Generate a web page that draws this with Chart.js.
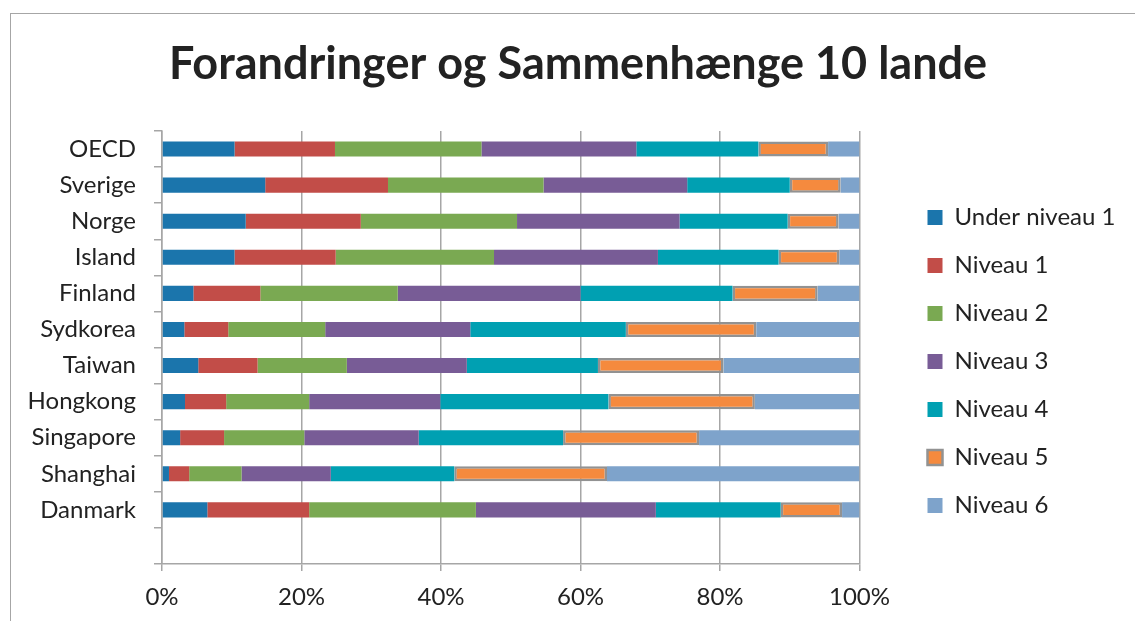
<!DOCTYPE html>
<html lang="da">
<head>
<meta charset="utf-8">
<title>Forandringer og Sammenhænge 10 lande</title>
<script src="https://cdn.jsdelivr.net/npm/chart.js@4.4.1/dist/chart.umd.min.js"></script>
<style>
  html, body { margin: 0; padding: 0; background: #fff; overflow: hidden; }
  /* cadre gris autour du graphique (bord droit et bas hors de l'écran) */
  #cadre { position: absolute; left: 10px; top: 13px; width: 1300px; height: 800px; border: 1px solid #a6a6a6; }
  #graphique { position: absolute; left: 0; top: 0; }
</style>
</head>
<body>
<div id="cadre"></div>
<canvas id="graphique" width="1156" height="621"></canvas>
<script>
/* données (en %) */
const lande = ["OECD", "Sverige", "Norge", "Island", "Finland", "Sydkorea", "Taiwan", "Hongkong", "Singapore", "Shanghai", "Danmark", ""];
const niveauer = ["Under niveau 1", "Niveau 1", "Niveau 2", "Niveau 3", "Niveau 4", "Niveau 5", "Niveau 6"];

const underNiveau1 = [10.4, 14.8, 12.0, 10.4, 4.5, 3.2, 5.2, 3.3, 2.6, 1.0, 6.5];
const niveau1 = [14.4, 17.6, 16.5, 14.5, 9.6, 6.3, 8.5, 5.9, 6.3, 2.9, 14.6];
const niveau2 = [21.0, 22.3, 22.4, 22.7, 19.7, 13.9, 12.8, 11.9, 11.5, 7.5, 23.9];
const niveau3 = [22.2, 20.6, 23.3, 23.5, 26.2, 20.8, 17.2, 18.8, 16.4, 12.8, 25.8];
const niveau4 = [17.5, 14.7, 15.5, 17.3, 21.8, 22.3, 18.8, 24.1, 20.7, 17.7, 17.9];
const niveau5 = [10.0, 7.3, 7.3, 8.7, 12.2, 18.7, 18.0, 21.0, 19.5, 21.9, 8.8];
const niveau6 = [4.5, 2.7, 3.0, 2.9, 6.0, 14.8, 19.5, 15.0, 23.0, 36.2, 2.5];

const xTicks = [0, 20, 40, 60, 80, 100];
const xLabels = ["0%", "20%", "40%", "60%", "80%", "100%"];

const serier = [underNiveau1, niveau1, niveau2, niveau3, niveau4, niveau5, niveau6];
const farver = ["#1b75ac", "#c24d48", "#7aa952", "#785c96", "#00a0b2", "#f58a3e", "#7ea3cb"];

const gris = "#a6a6a6";
const texte = "#222222";
const police = "Lato, 'Open Sans', sans-serif";

Chart.defaults.font.family = police;
Chart.defaults.color = texte;

/* largeur de la légende calculée à l'avance,
   pour que la zone du graphique finisse à x=859.5 */
const taillePolice = 24;
const mesure = document.createElement("canvas").getContext("2d");
mesure.font = taillePolice + "px " + police;
const texteMax = Math.max(...niveauer.map(t => mesure.measureText(t).width));
const largeurLegende = 24 + 15 + taillePolice / 2 + texteMax + 10;
const margeDroite = 1156 - 859.5 - largeurLegende;

/* après le calcul des positions :
   - la légende est décalée à droite et un peu vers le bas
   - le titre est centré sur toute la largeur */
const placerBlocs = {
  id: "placerBlocs",
  afterLayout(chart) {
    const lg = chart.legend;
    if (lg) {
      lg.left += 44; lg.right += 44;
      lg.top += 14; lg.bottom += 14;
    }
    const titre = chart.titleBlock;
    if (titre) {
      titre.left = 0;
      titre.right = chart.width;
      titre.width = chart.width;
    }
  }
};

const datasets = serier.map((data, i) => ({
  label: niveauer[i],
  data,
  backgroundColor: farver[i],
  // seul "Niveau 5" a un contour gris
  borderColor: i === 5 ? "#929292" : farver[i],
  borderWidth: i === 5 ? 2.5 : 0,
  borderSkipped: false,
  barPercentage: 0.42,
  categoryPercentage: 1
}));

new Chart(document.getElementById("graphique"), {
  type: "bar",
  data: { labels: lande, datasets },
  plugins: [placerBlocs],
  options: {
    indexAxis: "y",
    responsive: false,
    animation: false,
    layout: { padding: { left: 0, right: margeDroite, top: 0, bottom: 0 } },
    plugins: {
      title: {
        display: true,
        text: "Forandringer og Sammenhænge 10 lande",
        color: texte,
        font: { size: 45, weight: "bold" },
        padding: { top: 37, bottom: 40 }
      },
      legend: {
        position: "right",
        fullSize: false,
        align: "center",
        labels: {
          boxWidth: 15,
          boxHeight: 15,
          padding: 24,
          color: texte,
          font: { size: taillePolice }
        }
      },
      tooltip: { enabled: false }
    },
    scales: {
      x: {
        stacked: true,
        min: 0,
        max: 100,
        afterBuildTicks: s => { s.ticks = xTicks.map(v => ({ value: v })); },
        afterFit: s => { s.height = 57; },
        ticks: {
          padding: 12,
          font: { size: taillePolice },
          callback: (v, i) => xLabels[i]
        },
        grid: { color: gris, lineWidth: 1.5, tickLength: 7 },
        border: { color: gris, width: 1.5 }
      },
      y: {
        stacked: true,
        afterFit: s => { s.width = 162; },
        ticks: { padding: 18, font: { size: taillePolice } },
        grid: { drawOnChartArea: false, color: gris, lineWidth: 1.5, tickLength: 8 },
        border: { color: gris, width: 1.5 }
      }
    }
  }
});
</script>
</body>
</html>
